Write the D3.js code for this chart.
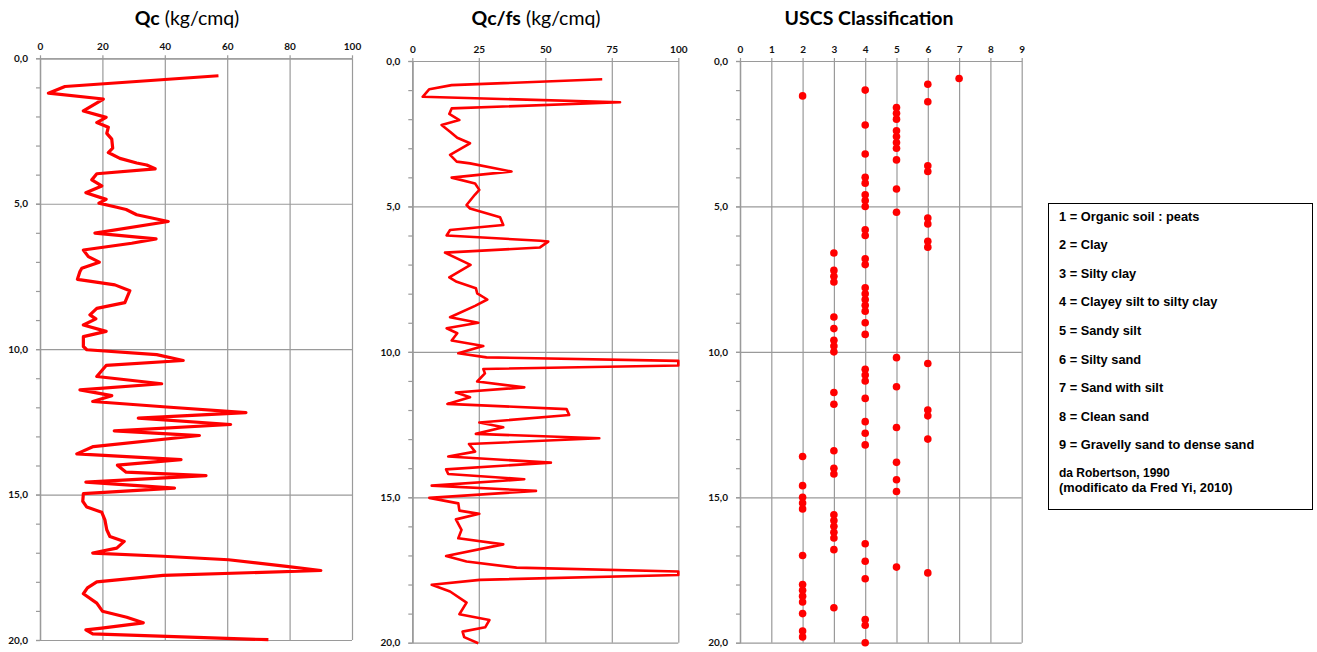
<!DOCTYPE html>
<html>
<head>
<meta charset="utf-8">
<script src="https://cdn.jsdelivr.net/npm/d3@7"></script>
<style>
  body { margin: 0; background: #fff; }
  .tick text { font-family: Lato, "Open Sans", sans-serif; font-weight: bold; font-size: 10px; fill: #111; }
  .grid line { stroke: #9a9a9a; stroke-width: 1.2; }
  .grid path { display: none; }
  .axis path, .axis line { stroke: #9a9a9a; stroke-width: 1.2; }
  .title { font-family: Lato, "Open Sans", sans-serif; font-size: 19.5px; fill: #000; }
  .legend text { font-family: "Liberation Sans", Arial, sans-serif; font-weight: bold; font-size: 12.8px; fill: #000; }
</style>
</head>
<body>
<div id="chart"></div>
<script>
// Qc (kg/cmq) vs depth (m)
const qcDepth = [0.6,0.97,1.2,1.4,1.81,2.03,2.21,2.37,2.58,2.78,3.09,3.24,3.44,3.6,3.67,3.8,3.97,4.18,4.39,4.62,4.85,4.98,
  5.12,5.2,5.38,5.61,6.01,6.21,6.36,6.59,6.82,7.01,7.22,7.33,7.6,7.79,7.99,8.4,8.6,8.82,8.96,9.17,9.39,9.57,9.91,
  10.02,10.19,10.39,10.56,10.94,11.19,11.4,11.6,11.8,11.99,12.18,12.37,12.59,12.81,12.97,13.35,13.6,13.8,13.99,14.23,14.35,14.57,14.78,14.97,
  15.23,15.43,15.61,15.87,16.21,16.44,16.61,16.84,17.01,17.12,17.24,17.47,17.61,17.78,18.0,18.21,18.41,18.73,19.01,19.22,19.41,19.59,19.65,19.79,19.99];
const qcValue = [57.2,8,2.7,20.3,13.9,21.2,18.2,21.9,21.4,23,23.3,21.9,25.6,31,34.2,36.9,18.2,16.6,19.8,14.7,21.2,18.9,
  24.6,27.6,31,41.1,17.6,37.2,29.4,13.9,15.5,19,13.4,12.8,12,24,28.8,27.2,18.2,16,17.9,13.9,21.2,13.9,13.9,
  15,37.4,45.9,21.2,18.2,39,12.8,23,16.9,40.6,66,31.5,61.1,23.8,51.1,17.1,11.8,45.2,24.8,27.6,53.2,14.7,43.1,13.9,
  13.7,15,19.8,20.8,21.4,22.4,27,24.6,16.9,39.5,60.4,79,90,39.5,18.2,15.2,13.9,18.2,20,27.8,33.1,19.8,14.7,16.9,73.2];

// Qc/fs vs depth (m)
const qfDepth = [0.63,0.83,0.97,1.23,1.42,1.63,1.82,2.03,2.2,2.43,2.64,2.83,3.23,3.46,3.52,3.8,4.01,4.21,4.43,4.6,4.95,
  5.07,5.37,5.64,5.81,6.0,6.18,6.21,6.41,6.59,7.01,7.44,7.59,7.81,7.99,8.2,8.42,8.81,9.0,9.19,9.36,9.61,9.8,
  10.05,10.19,10.31,10.47,10.59,10.74,11.02,11.22,11.4,11.56,11.79,11.97,12.17,12.43,12.59,12.82,12.97,13.17,13.43,13.6,13.81,14.04,14.2,14.38,14.6,14.78,
  15.02,15.21,15.46,15.57,15.76,16.12,16.41,16.62,17.02,17.21,17.42,17.55,17.67,17.84,18.01,18.24,18.62,19.02,19.22,19.47,19.62,19.81,20.02];
const qfValue = [71.4,14.8,6.4,3.9,78.1,14.8,13.9,17.7,11,14.2,16.9,21.7,14.2,16.7,21.7,37.3,14.8,23.6,25.2,23.5,20.4,
  21.7,33,34.2,14.2,12.9,48.2,51.1,48,12.3,21.9,13.9,16.7,23.9,24.4,28.2,23.6,14.2,24.8,12.9,16.9,14.8,26.7,
  17.3,27.9,100,100,26.7,27.3,24.4,42.1,16.4,21.7,13.2,58,59,25.2,34.2,23.9,70.3,21.3,23.6,13.5,52.1,12.7,13.5,42.1,7.3,46.5,
  6.4,17.3,17.7,25.2,16.4,18.5,17.3,34.2,12.7,20.4,39.2,100,100,25.4,7.3,14.2,20.4,17.7,29,27.4,18.9,19.5,24.8];

// USCS class -> depths (m)
const class2Depths = [1.2,13.6,14.6,15.0,15.2,15.4,17.0,18.0,18.2,18.4,18.6,19.0,19.6,19.8];
const class3Depths = [6.6,7.2,7.4,7.6,8.8,9.2,9.6,9.8,10.0,11.4,11.8,13.4,14.0,14.2,15.6,15.8,16.0,16.2,16.4,16.8,18.8];
const class4Depths = [1.0,2.2,3.2,4.0,4.2,4.6,4.8,5.0,5.8,6.0,6.8,7.0,7.8,8.0,8.2,8.4,8.6,9.0,9.4,10.6,10.8,11.0,11.6,12.4,12.8,13.2,16.6,17.2,17.8,19.2,19.4,20.0];
const class5Depths = [1.6,1.8,2.0,2.4,2.6,2.8,3.0,3.4,4.4,5.2,10.2,11.2,12.6,13.8,14.4,14.8,17.4];
const class6Depths = [0.8,1.4,3.6,3.8,5.4,5.6,6.2,6.4,10.4,12.0,12.2,13.0,17.6];
const class7Depths = [0.6];

const legendLines = ["1 = Organic soil : peats", "2 = Clay", "3 = Silty clay", "4 = Clayey silt to silty clay",
  "5 = Sandy silt", "6 = Silty sand", "7 = Sand with silt", "8 = Clean sand", "9 = Gravelly sand to dense sand"];
const legendNote = ["da Robertson, 1990", "(modificato da Fred Yi, 2010)"];

const depthTicks = [0, 5, 10, 15, 20];
const depthMinor = d3.range(0, 21, 1);

const svg = d3.select('#chart').append('svg')
  .attr('width', 1317).attr('height', 652);

function panel(p) {
  const x = d3.scaleLinear().domain(p.xDomain).range([p.left, p.right]);
  const y = d3.scaleLinear().domain([0, 20]).range([p.top, p.bottom]);
  const g = svg.append('g');

  // gridlines
  g.append('g').attr('class', 'grid')
    .attr('transform', 'translate(0,' + p.top + ')')
    .call(d3.axisBottom(x).tickValues(p.xTicks).tickSize(p.bottom - p.top).tickFormat(''));
  g.append('g').attr('class', 'grid')
    .attr('transform', 'translate(' + p.left + ',0)')
    .call(d3.axisRight(y).tickValues(depthTicks).tickSize(p.right - p.left).tickFormat(''));

  // axes
  g.append('g').attr('class', 'axis')
    .attr('transform', 'translate(0,' + p.top + ')')
    .call(d3.axisTop(x).tickValues(p.xTicks).tickSize(3).tickSizeOuter(0).tickPadding(5));
  g.append('g').attr('class', 'axis')
    .attr('transform', 'translate(' + p.left + ',0)')
    .call(d3.axisLeft(y).tickValues(depthMinor).tickSize(4).tickSizeOuter(0).tickFormat(''));
  g.append('g').attr('class', 'axis')
    .attr('transform', 'translate(' + p.left + ',0)')
    .call(d3.axisLeft(y).tickValues(depthTicks).tickSize(4).tickSizeOuter(0).tickPadding(8)
      .tickFormat(d => d3.format('.1f')(d).replace('.', ',')));

  // title
  const t = svg.append('text').attr('class', 'title')
    .attr('x', p.titleX).attr('y', 25).attr('text-anchor', 'middle');
  t.append('tspan').attr('font-weight', 'bold').text(p.titleBold);
  if (p.titleRest) t.append('tspan').text(p.titleRest);

  return { g, x, y };
}

// Qc panel
const p1 = panel({ left: 40, right: 352, top: 58.3, bottom: 640, xDomain: [0, 100], xTicks: [0, 20, 40, 60, 80, 100],
  titleX: 187, titleBold: 'Qc', titleRest: ' (kg/cmq)' });
p1.g.append('path')
  .datum(d3.zip(qcDepth, qcValue))
  .attr('fill', 'none').attr('stroke', '#ff0000').attr('stroke-width', 3.2).attr('stroke-linejoin', 'round')
  .attr('d', d3.line().x(d => p1.x(d[1])).y(d => p1.y(d[0])));

// Qc/fs panel
const p2 = panel({ left: 412.3, right: 678.3, top: 61, bottom: 642.7, xDomain: [0, 100], xTicks: [0, 25, 50, 75, 100],
  titleX: 536, titleBold: 'Qc/fs', titleRest: ' (kg/cmq)' });
p2.g.append('path')
  .datum(d3.zip(qfDepth, qfValue))
  .attr('fill', 'none').attr('stroke', '#ff0000').attr('stroke-width', 2.6).attr('stroke-linejoin', 'round')
  .attr('d', d3.line().x(d => p2.x(d[1])).y(d => p2.y(d[0])));

// USCS panel
const p3 = panel({ left: 740, right: 1021.7, top: 61, bottom: 642.7, xDomain: [0, 9], xTicks: d3.range(0, 10),
  titleX: 869, titleBold: 'USCS Classification' });
const uscs = [];
[[2, class2Depths], [3, class3Depths], [4, class4Depths], [5, class5Depths], [6, class6Depths], [7, class7Depths]]
  .forEach(([c, ds]) => ds.forEach(d => uscs.push({ cls: c, depth: d })));
p3.g.selectAll('.dot')
  .data(uscs)
  .enter()
  .append('circle')
  .attr('class', 'dot')
  .attr('cx', d => p3.x(d.cls))
  .attr('cy', d => p3.y(d.depth))
  .attr('r', 3.8)
  .style('fill', '#ff0000');

// legend box
const lg = svg.append('g').attr('class', 'legend');
lg.append('rect').attr('x', 1048.5).attr('y', 203.5).attr('width', 264).attr('height', 306)
  .attr('fill', '#fff').attr('stroke', '#000').attr('stroke-width', 1);
lg.selectAll('.item').data(legendLines).enter().append('text')
  .attr('class', 'item')
  .attr('x', 1059).attr('y', (d, i) => 220.5 + i * 28.6)
  .text(d => d);
lg.selectAll('.note').data(legendNote).enter().append('text')
  .attr('class', 'note')
  .attr('x', 1059).attr('y', (d, i) => 477 + i * 15)
  .style('font-size', (d, i) => i === 0 ? '12px' : '12.8px')
  .text(d => d);
</script>
</body>
</html>
